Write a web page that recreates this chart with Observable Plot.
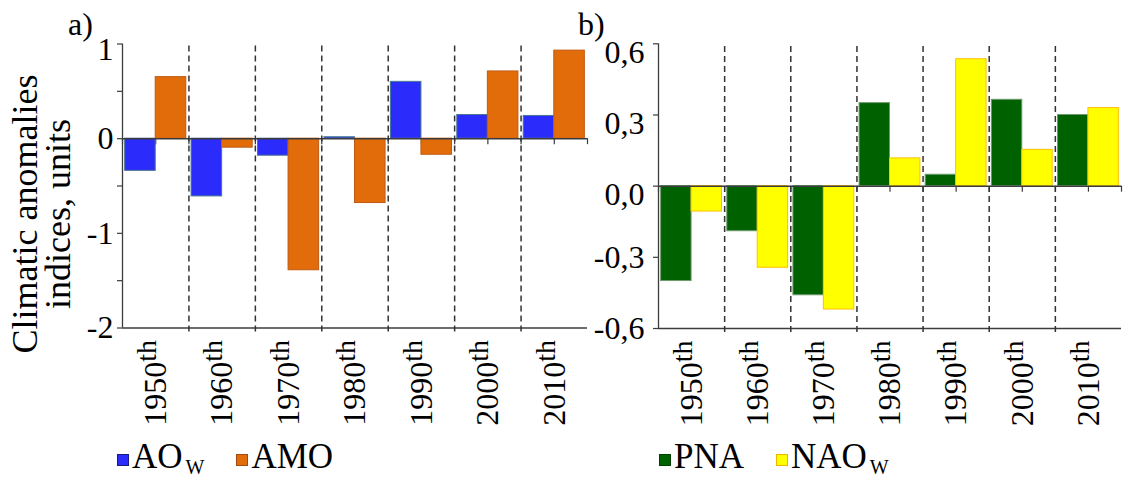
<!DOCTYPE html>
<html>
<head>
<meta charset="utf-8">
<script src="https://cdn.jsdelivr.net/npm/d3@7"></script>
<script src="https://cdn.jsdelivr.net/npm/@observablehq/plot@0.6"></script>
<style>
  body { margin: 0; background: #fff; }
  #fig { position: relative; width: 1124px; height: 477px; overflow: hidden;
         font-family: 'Liberation Serif', 'Times New Roman', serif; color: #000; background: #fff; }
  .panel { position: absolute; top: 0; }
  .tag { position: absolute; top: 8px; font-size: 32px; line-height: 32px; }
  .legend { position: absolute; top: 439px; font-size: 35px; line-height: 35px; white-space: nowrap; }
  .item { display: inline-block; margin-right: 32px; }
  .sw { display: inline-block; width: 12px; height: 12px; margin-right: 3px; vertical-align: 2px;
        box-sizing: border-box; border: 1px solid; }
  .sub { font-size: 20px; vertical-align: -6px; margin-left: 3px; }
</style>
</head>
<body>
<div id="fig"></div>
<script>
// Decades on the x axis
const decades = [1950, 1960, 1970, 1980, 1990, 2000, 2010];
const decadeSuffix = "th";

// Panel a: winter Arctic Oscillation and Atlantic Multidecadal Oscillation
const aoW = [-0.34, -0.61, -0.18, 0.015, 0.60, 0.25, 0.24];
const amo = [0.65, -0.095, -1.39, -0.68, -0.17, 0.71, 0.93];

// Panel b: Pacific/North American pattern and winter North Atlantic Oscillation
const pna = [-0.40, -0.19, -0.46, 0.35, 0.048, 0.364, 0.30];
const naoW = [-0.107, -0.344, -0.52, 0.117, 0.535, 0.153, 0.329];

// Axis ticks
const yTicksA = [-2, -1.5, -1, -0.5, 0, 0.5, 1];
const yLabelsA = [-2, -1, 0, 1];
const yTicksB = [-0.6, -0.3, 0, 0.3, 0.6];

const yTitle = "Climatic anomalies\nindices, units";

const seriesA = [
  {name: "AO", sub: "W", values: aoW, fill: "#2b2bfb", stroke: "#47788f", swatchStroke: "#1a1a80"},
  {name: "AMO", sub: "", values: amo, fill: "#e36c0a", stroke: "#bf5a14", swatchStroke: "#a04a10"}
];
const seriesB = [
  {name: "PNA", sub: "", values: pna, fill: "#006100", stroke: "#6f9a6f", swatchStroke: "#004000"},
  {name: "NAO", sub: "W", values: naoW, fill: "#ffff00", stroke: "#ffc000", swatchStroke: "#f0b400"}
];

const serifStack = "'Liberation Serif', 'Times New Roman', serif";
const axisColor = "#3c3c3c";
const barW = 0.46;          // width of one bar, in decade steps
const H = 440;

const hyphen = s => s.replace("\u2212", "-");
const fmtA = d => hyphen(d3.format("d")(d));
const fmtB = d => hyphen(d3.format(".1f")(d)).replace(".", ",");

function panel({series, width, xRange, yDomain, yRange, yTicks, yLabelsLow, yLabelsHigh, highDy,
                fmt, labelPad, title}) {
  const n = decades.length;
  const rows = decades.flatMap((dec, i) => series.map((s, j) => ({i, j, v: s.values[i]})));
  const halfSteps = d3.range(-0.5, n, 0.5);
  const dividers = d3.range(0.5, n - 1, 1);
  const [y0, y1] = yDomain;
  const marks = [
    // short ticks hanging below the zero line
    Plot.ruleX(halfSteps, {x: d => d, y1: 0, y2: 0, insetBottom: -6, stroke: axisColor, strokeWidth: 1.2}),
    Plot.rect(rows, {
      x1: d => d.i + (d.j - 1) * barW,
      x2: d => d.i + d.j * barW,
      y1: 0, y2: "v",
      fill: d => series[d.j].fill,
      stroke: d => series[d.j].stroke,
      strokeWidth: 1
    }),
    Plot.ruleY([0], {stroke: axisColor, strokeWidth: 1.5}),
    Plot.ruleY([y0], {stroke: axisColor, strokeWidth: 1.3}),
    Plot.ruleX([-0.5], {y1: y0, y2: y1, stroke: axisColor, strokeWidth: 1.3}),
    // y tick marks
    Plot.ruleY(yTicks, {y: d => d, x1: -0.5, x2: -0.5, insetLeft: -5, stroke: axisColor, strokeWidth: 1.2}),
    // dashed separators between decades
    Plot.ruleX(dividers, {x: d => d, y1: y0, y2: y1, insetTop: 4, stroke: "#333", strokeWidth: 1.5,
                          strokeDasharray: "6,4"}),
    Plot.axisY({ticks: yLabelsLow, tickSize: 0, tickPadding: labelPad, tickFormat: fmt, fontSize: 32, label: null}),
    Plot.axisY({ticks: yLabelsHigh, tickSize: 0, tickPadding: labelPad, tickFormat: fmt, fontSize: 32, dy: highDy, label: null}),
    Plot.axisX({ticks: d3.range(n), tickSize: 0, tickPadding: 12, tickRotate: -90, fontSize: 32, label: null,
                tickFormat: i => String(decades[i])})
  ];
  if (title) {
    marks.push(Plot.text([title], {text: d => d, frameAnchor: "left", textAnchor: "middle", rotate: -90,
                                   dx: -80, dy: 28, fontSize: 36, lineHeight: 0.92}));
  }
  const svg = Plot.plot({
    width, height: H,
    marginLeft: xRange[0], marginRight: width - xRange[1],
    marginTop: yRange[1], marginBottom: H - yRange[0],
    style: {fontFamily: serifStack, fontSize: "32px", background: "transparent", overflow: "visible"},
    x: {domain: [-0.5, n - 0.5], range: xRange},
    y: {domain: yDomain, range: yRange},
    marks
  });
  // decade labels with a raised ordinal suffix
  d3.select(svg).selectAll('g[aria-label="x-axis tick label"] text').each(function () {
    const t = d3.select(this);
    const s = t.text();
    t.text(null);
    t.append("tspan").text(s);
    t.append("tspan").attr("font-size", 28).attr("dy", -10).text(decadeSuffix);
  });
  return svg;
}

function legend(series, left) {
  const div = document.createElement("div");
  div.className = "legend";
  div.style.left = left + "px";
  for (const s of series) {
    const item = document.createElement("span");
    item.className = "item";
    const sw = document.createElement("span");
    sw.className = "sw";
    sw.style.background = s.fill;
    sw.style.borderColor = s.swatchStroke;
    item.appendChild(sw);
    item.appendChild(document.createTextNode(s.name));
    if (s.sub) {
      const sub = document.createElement("span");
      sub.className = "sub";
      sub.textContent = s.sub;
      item.appendChild(sub);
    }
    div.appendChild(item);
  }
  return div;
}

const fig = document.getElementById("fig");

const pa = document.createElement("div");
pa.className = "panel"; pa.style.left = "0px";
pa.appendChild(panel({
  series: seriesA, width: 590, xRange: [122, 587],
  yDomain: [-2, 1], yRange: [327.5, 43.5],
  yTicks: yTicksA, yLabelsLow: yLabelsA.filter(d => d < 1), yLabelsHigh: yLabelsA.filter(d => d >= 1),
  highDy: 6, fmt: fmtA, labelPad: 9, title: yTitle
}));
fig.appendChild(pa);

const pb = document.createElement("div");
pb.className = "panel"; pb.style.left = "590px";
pb.appendChild(panel({
  series: seriesB, width: 534, xRange: [68, 531],
  yDomain: [-0.6, 0.6], yRange: [328, 43.3],
  yTicks: yTicksB, yLabelsLow: yTicksB.filter(d => d < 0), yLabelsHigh: yTicksB.filter(d => d >= 0),
  highDy: 9, fmt: fmtB, labelPad: 14, title: null
}));
fig.appendChild(pb);

for (const [txt, left] of [["a)", 68], ["b)", 578]]) {
  const t = document.createElement("div");
  t.className = "tag";
  t.style.left = left + "px";
  t.textContent = txt;
  fig.appendChild(t);
}

fig.appendChild(legend(seriesA, 117));
fig.appendChild(legend(seriesB, 659));
</script>
</body>
</html>
